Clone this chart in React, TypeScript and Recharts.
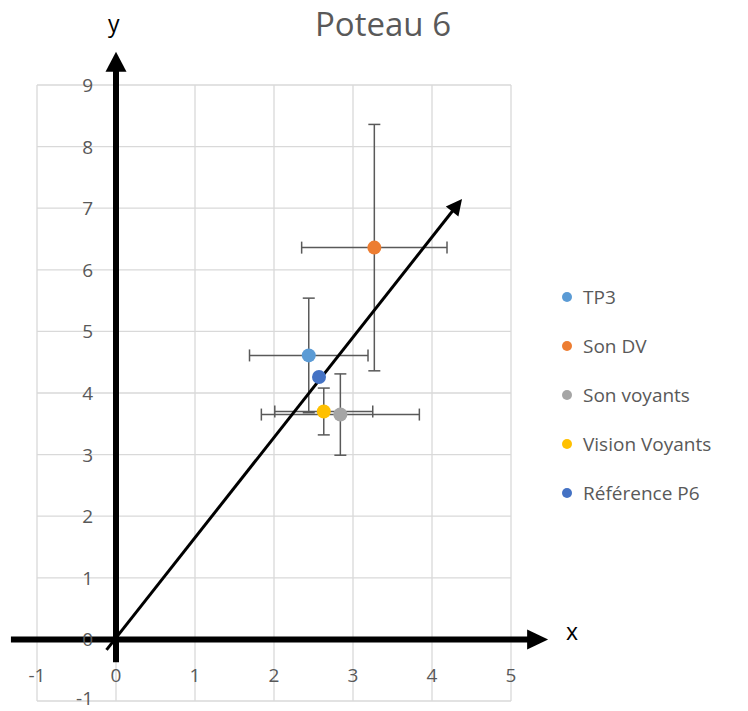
import {
  CartesianGrid,
  ErrorBar,
  Legend,
  ReferenceLine,
  Scatter,
  ScatterChart,
  XAxis,
  YAxis,
} from "recharts";

// series
const seriesNames = ["TP3", "Son DV", "Son voyants", "Vision Voyants", "Référence P6"];
const seriesColors = ["#5B9BD5", "#ED7D31", "#A5A5A5", "#FFC000", "#4472C4"];
const xValues = [2.44, 3.27, 2.84, 2.63, 2.57];
const yValues = [4.61, 6.36, 3.65, 3.7, 4.26];
const xErrors = [0.75, 0.92, 1.0, 0.62, null];
const yErrors = [0.93, 2.0, 0.66, 0.38, null];

const xTicks = [-1, 0, 1, 2, 3, 4, 5];
const yTicks = [-1, 0, 1, 2, 3, 4, 5, 6, 7, 8, 9];

// drawn arrows (start / end in data units)
const xArrow = [
  { x: -1.33, y: 0 },
  { x: 5.47, y: 0 },
];
const yArrow = [
  { x: 0, y: -0.37 },
  { x: 0, y: 9.54 },
];
const slopeArrow = [
  { x: -0.12, y: -0.17 },
  { x: 4.38, y: 7.15 },
];

const title = "Poteau 6";
const FONT = "'Open Sans', sans-serif";
const TEXT = "#595959";

const W = 748;
const H = 711;
const PLOT = { left: 37, top: 85, right: 511, bottom: 701 };
const X_DOMAIN: [number, number] = [-1, 5];
const Y_DOMAIN: [number, number] = [-1, 9];
const zeroX =
  PLOT.left + ((PLOT.right - PLOT.left) * (0 - X_DOMAIN[0])) / (X_DOMAIN[1] - X_DOMAIN[0]);
const zeroY =
  PLOT.bottom - ((PLOT.bottom - PLOT.top) * (0 - Y_DOMAIN[0])) / (Y_DOMAIN[1] - Y_DOMAIN[0]);

const series = seriesNames.map((name, i) => ({
  name,
  color: seriesColors[i],
  data: [{ x: xValues[i], y: yValues[i], ex: xErrors[i], ey: yErrors[i] }],
  hasErrors: xErrors[i] != null,
}));

function makeArrow(width: number, headLen: number, headHalf: number) {
  return (props: any) => {
    const { x1, y1, x2, y2 } = props;
    const dx = x2 - x1;
    const dy = y2 - y1;
    const len = Math.hypot(dx, dy) || 1;
    const ux = dx / len;
    const uy = dy / len;
    const bx = x2 - ux * headLen;
    const by = y2 - uy * headLen;
    const px = -uy;
    const py = ux;
    return (
      <g>
        <line x1={x1} y1={y1} x2={bx + ux} y2={by + uy} stroke="#000" strokeWidth={width} />
        <polygon
          points={`${x2},${y2} ${bx + px * headHalf},${by + py * headHalf} ${bx - px * headHalf},${by - py * headHalf}`}
          fill="#000"
        />
      </g>
    );
  };
}

// axis labels sit next to the zero lines, like Excel's crossing axes
function XTick(props: any) {
  const { x, payload } = props;
  return (
    <text x={x} y={zeroY + 36} textAnchor="middle" dominantBaseline="central" fill={TEXT} fontSize={19} fontFamily={FONT}>
      {payload.value}
    </text>
  );
}

function YTick(props: any) {
  const { y, payload } = props;
  return (
    <text
      x={zeroX - 23}
      y={Math.min(y, H - 13)}
      textAnchor="end"
      dominantBaseline="central"
      fill={TEXT}
      fontSize={19}
      fontFamily={FONT}
    >
      {payload.value}
    </text>
  );
}

function LegendContent() {
  return (
    <div style={{ fontFamily: FONT, fontSize: 19, color: TEXT }}>
      {series.map((s) => (
        <div key={s.name} style={{ height: 49, display: "flex", alignItems: "center" }}>
          <span
            style={{
              width: 10,
              height: 10,
              borderRadius: "50%",
              background: s.color,
              marginRight: 11,
              display: "inline-block",
            }}
          />
          <span>{s.name}</span>
        </div>
      ))}
    </div>
  );
}

export default function App() {
  return (
    <div style={{ position: "absolute", left: 0, top: 0, width: W, height: H, background: "#fff" }}>
      <ScatterChart
        width={W}
        height={H}
        margin={{ left: PLOT.left - 1, top: PLOT.top, right: W - PLOT.right, bottom: H - PLOT.bottom - 1 }}
      >
        <CartesianGrid stroke="#d9d9d9" strokeWidth={1.3} />
        <XAxis
          type="number"
          dataKey="x"
          domain={X_DOMAIN}
          ticks={xTicks}
          interval={0}
          allowDataOverflow
          height={1}
          axisLine={false}
          tickLine={false}
          tick={(p: any) => <XTick {...p} />}
        />
        <YAxis
          type="number"
          dataKey="y"
          domain={Y_DOMAIN}
          ticks={yTicks}
          interval={0}
          allowDataOverflow
          width={1}
          axisLine={false}
          tickLine={false}
          tick={(p: any) => <YTick {...p} />}
        />
        <Legend
          layout="vertical"
          align="center"
          verticalAlign="middle"
          content={<LegendContent />}
          wrapperStyle={{ left: 562, top: 272, width: 186 }}
        />
        {series.map((s) => (
          <Scatter
            key={s.name}
            name={s.name}
            data={s.data}
            fill={s.color}
            isAnimationActive={false}
            shape={(p: any) => <circle cx={p.cx} cy={p.cy} r={7} fill={s.color} />}
          >
            {s.hasErrors && (
              <ErrorBar dataKey="ex" direction="x" width={6} stroke="#595959" strokeWidth={1.5} />
            )}
            {s.hasErrors && (
              <ErrorBar dataKey="ey" direction="y" width={6} stroke="#595959" strokeWidth={1.5} />
            )}
          </Scatter>
        ))}
        <ReferenceLine segment={xArrow} ifOverflow="visible" shape={makeArrow(6, 21, 10)} />
        <ReferenceLine segment={yArrow} ifOverflow="visible" shape={makeArrow(6, 20, 10.5)} />
        <ReferenceLine segment={slopeArrow} ifOverflow="visible" shape={makeArrow(3, 16, 8)} />
      </ScatterChart>
      <div
        style={{
          position: "absolute",
          left: 233,
          width: 300,
          top: 3,
          textAlign: "center",
          fontFamily: FONT,
          fontSize: 33,
          lineHeight: "42px",
          color: TEXT,
        }}
      >
        {title}
      </div>
      <div style={{ position: "absolute", left: 108, top: 8, fontFamily: FONT, fontSize: 23, lineHeight: "30px", color: "#000" }}>
        y
      </div>
      <div style={{ position: "absolute", left: 566, top: 616, fontFamily: FONT, fontSize: 23, lineHeight: "30px", color: "#000" }}>
        x
      </div>
    </div>
  );
}
